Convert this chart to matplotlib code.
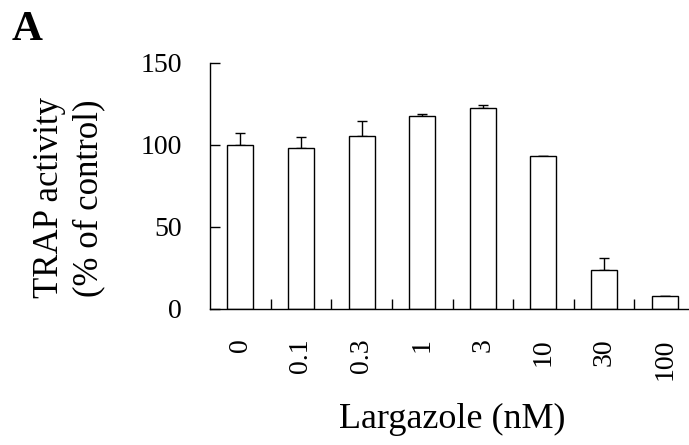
import matplotlib
matplotlib.use("Agg")
import matplotlib.pyplot as plt
import numpy as np

plt.rcParams['font.family'] = ['Liberation Serif', 'DejaVu Serif']

categories = ["0", "0.1", "0.3", "1", "3", "10", "30", "100"]
values = [100, 98.2, 105.5, 117.7, 122.6, 93.3, 23.8, 7.9]
errors = [7.3, 6.7, 9.1, 1.2, 1.8, 0, 7.3, 0]
yticks = [0, 50, 100, 150]

W, H = 689, 445
fig = plt.figure(figsize=(W / 100, H / 100), dpi=100)
ax_left, ax_right, ax_bottom, ax_top = 210, 695, 309, 63
ax = fig.add_axes([ax_left / W, 1 - ax_bottom / H, (ax_right - ax_left) / W, (ax_bottom - ax_top) / H])

x = np.arange(len(categories))
ax.bar(x, values, width=0.43, color='white', edgecolor='black', linewidth=1.0, zorder=2)
ax.errorbar(x, values, yerr=[np.zeros(len(errors)), errors], fmt='none', ecolor='black',
            elinewidth=1.0, capsize=3.5, capthick=1.0, zorder=1)

ax.set_xlim(-0.5, len(categories) - 0.5)
ax.set_ylim(0, 150)
ax.set_yticks(yticks)
ax.set_yticklabels([str(t) for t in yticks])
ax.tick_params(axis='y', direction='in', length=7, width=1.0, pad=20, labelsize=20)

ax.set_xticks(x)
ax.set_xticklabels(categories, rotation=90, fontsize=20)
ax.tick_params(axis='x', which='major', length=0, pad=21)
ax.set_xticks(x[:-1] + 0.5, minor=True)
ax.tick_params(axis='x', which='minor', direction='in', length=7, width=1.0)

for s in ['top', 'right']:
    ax.spines[s].set_visible(False)
for s in ['left', 'bottom']:
    ax.spines[s].set_linewidth(1.0)
    ax.spines[s].set_color('black')

ax.set_xlabel("Largazole (nM)", fontsize=26)
ax.xaxis.set_label_coords(0.5, -0.38)

fig.text(69 / W, 1 - 198 / H, "TRAP activity\n(% of control)", rotation=90, fontsize=25,
         ha='center', va='center', multialignment='center', linespacing=1.25)

fig.text(12 / W, 1 - 40 / H, "A", fontsize=31, fontweight='bold', ha='left', va='baseline')

fig.savefig("out.png", dpi=100)
